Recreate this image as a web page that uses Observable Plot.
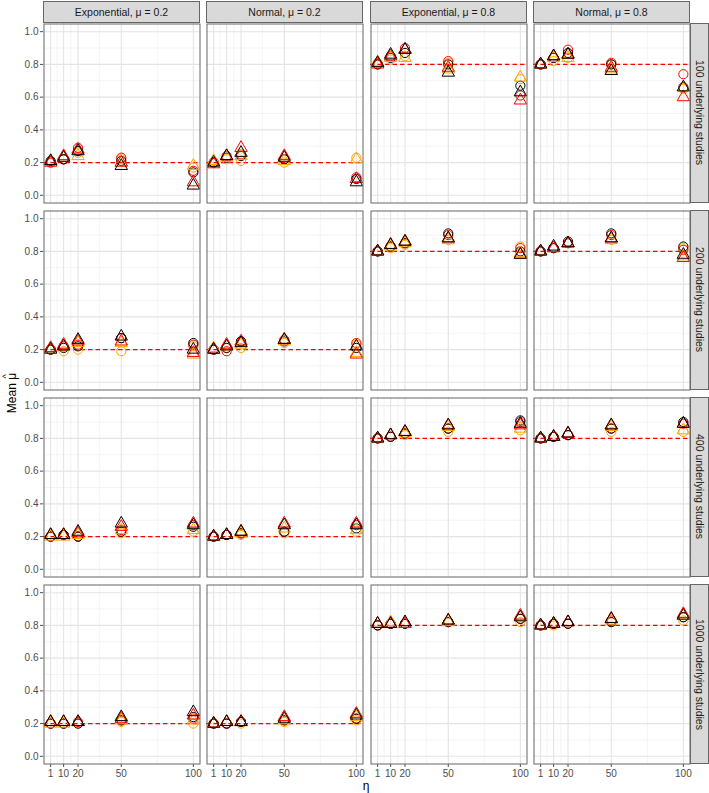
<!DOCTYPE html>
<html><head><meta charset="utf-8">
<script src="https://cdn.jsdelivr.net/npm/d3@7"></script>
<script src="https://cdn.jsdelivr.net/npm/@observablehq/plot@0.6"></script>
<style>
body{margin:0;background:#fff;font-family:"Liberation Sans",Arial,sans-serif}
#chart{position:relative;width:709px;height:793px;overflow:hidden;background:#fff}
.strip{position:absolute;background:#d9d9d9;border:1px solid #666;box-sizing:border-box;display:flex;align-items:center;justify-content:center;font-size:10.5px;color:#1a1a1a;white-space:nowrap}
.strip.v{writing-mode:vertical-rl}
.panel{position:absolute}
.panel svg{display:block;overflow:visible}
.lab{position:absolute;font-size:12px;color:#000000;white-space:nowrap;line-height:1}
.hat{position:relative;display:inline-block}
.hat .h{position:absolute;left:0;right:0;top:-4px;text-align:center;font-size:9px;line-height:1}
</style></head>
<body><div id="chart"></div>
<script>
// ---- data ----
const etas = [1, 10, 20, 50, 100];
const colLabels = ["Exponential, \u03bc = 0.2", "Normal, \u03bc = 0.2", "Exponential, \u03bc = 0.8", "Normal, \u03bc = 0.8"];
const trueMu = [0.2, 0.2, 0.8, 0.8];
const rowLabels = ["100 underlying studies", "200 underlying studies", "400 underlying studies", "1000 underlying studies"];
const seriesShape = ["circle", "circle", "circle", "triangle", "triangle", "triangle"];
const seriesGroup = ["A", "B", "C", "A", "B", "C"];
const groupColors = ["black", "red", "orange"];
const yTicks = [0, 0.2, 0.4, 0.6, 0.8, 1.0];

// per column: [circle A, circle B, circle C, triangle A, triangle B, triangle C] at etas
const mean100 = [
  [[0.21,0.22,0.27,0.21,0.14],[0.20,0.22,0.29,0.23,0.15],[0.20,0.22,0.26,0.22,0.17],[0.21,0.23,0.27,0.18,0.06],[0.20,0.24,0.28,0.20,0.08],[0.21,0.23,0.24,0.20,0.18]],
  [[0.20,0.23,0.24,0.22,0.10],[0.20,0.24,0.25,0.22,0.11],[0.20,0.22,0.21,0.20,0.23],[0.20,0.24,0.26,0.23,0.08],[0.19,0.24,0.29,0.24,0.10],[0.21,0.23,0.24,0.21,0.22]],
  [[0.80,0.84,0.87,0.80,0.67],[0.80,0.85,0.90,0.82,0.61],[0.81,0.83,0.85,0.81,0.71],[0.81,0.86,0.89,0.75,0.63],[0.80,0.85,0.89,0.78,0.58],[0.81,0.84,0.84,0.77,0.72]],
  [[0.80,0.84,0.87,0.80,0.66],[0.80,0.84,0.89,0.81,0.74],[0.80,0.82,0.84,0.80,0.65],[0.80,0.85,0.86,0.76,0.66],[0.80,0.85,0.86,0.78,0.60],[0.80,0.84,0.84,0.77,0.66]]
];
const mean200 = [
  [[0.20,0.21,0.22,0.27,0.24],[0.20,0.22,0.23,0.27,0.23],[0.20,0.19,0.20,0.19,0.22],[0.20,0.22,0.26,0.28,0.20],[0.21,0.23,0.25,0.25,0.18],[0.20,0.22,0.24,0.24,0.17]],
  [[0.20,0.21,0.25,0.25,0.21],[0.20,0.19,0.25,0.26,0.24],[0.20,0.21,0.21,0.24,0.23],[0.20,0.22,0.24,0.26,0.22],[0.20,0.23,0.25,0.26,0.17],[0.21,0.22,0.23,0.25,0.18]],
  [[0.80,0.83,0.85,0.91,0.80],[0.80,0.83,0.85,0.90,0.82],[0.80,0.82,0.84,0.87,0.83],[0.80,0.84,0.86,0.88,0.78],[0.80,0.84,0.86,0.88,0.78],[0.80,0.83,0.85,0.87,0.79]],
  [[0.80,0.82,0.86,0.91,0.83],[0.80,0.82,0.85,0.90,0.81],[0.80,0.82,0.85,0.87,0.82],[0.80,0.83,0.85,0.88,0.78],[0.80,0.82,0.85,0.88,0.76],[0.80,0.82,0.85,0.87,0.77]]
];
const mean400 = [
  [[0.20,0.21,0.20,0.23,0.26],[0.20,0.21,0.20,0.24,0.27],[0.20,0.21,0.20,0.22,0.23],[0.21,0.21,0.23,0.28,0.27],[0.21,0.21,0.22,0.26,0.28],[0.20,0.20,0.21,0.24,0.24]],
  [[0.20,0.21,0.22,0.23,0.25],[0.20,0.21,0.22,0.23,0.27],[0.20,0.21,0.21,0.22,0.23],[0.20,0.21,0.23,0.27,0.27],[0.20,0.21,0.23,0.28,0.28],[0.20,0.21,0.22,0.25,0.24]],
  [[0.80,0.81,0.83,0.86,0.91],[0.80,0.81,0.83,0.86,0.90],[0.80,0.81,0.82,0.84,0.85],[0.80,0.82,0.84,0.88,0.89],[0.80,0.82,0.84,0.88,0.88],[0.80,0.82,0.83,0.87,0.86]],
  [[0.80,0.81,0.82,0.86,0.90],[0.80,0.81,0.82,0.86,0.89],[0.80,0.81,0.82,0.84,0.84],[0.80,0.81,0.83,0.88,0.89],[0.80,0.81,0.83,0.88,0.89],[0.80,0.81,0.83,0.87,0.85]]
];
const mean1000 = [
  [[0.20,0.20,0.20,0.22,0.24],[0.20,0.20,0.21,0.22,0.23],[0.20,0.20,0.20,0.21,0.20],[0.21,0.21,0.21,0.24,0.27],[0.21,0.21,0.21,0.23,0.25],[0.20,0.20,0.21,0.22,0.22]],
  [[0.20,0.20,0.21,0.22,0.23],[0.20,0.20,0.21,0.22,0.23],[0.20,0.20,0.20,0.21,0.22],[0.20,0.21,0.21,0.23,0.25],[0.20,0.21,0.21,0.24,0.26],[0.20,0.21,0.21,0.22,0.24]],
  [[0.80,0.81,0.81,0.82,0.84],[0.80,0.81,0.81,0.82,0.84],[0.80,0.81,0.81,0.82,0.82],[0.81,0.81,0.82,0.83,0.85],[0.81,0.81,0.81,0.83,0.86],[0.81,0.82,0.81,0.82,0.85]],
  [[0.80,0.81,0.81,0.82,0.85],[0.80,0.81,0.81,0.83,0.85],[0.80,0.80,0.81,0.82,0.83],[0.80,0.81,0.82,0.84,0.86],[0.80,0.81,0.82,0.84,0.87],[0.80,0.81,0.82,0.83,0.86]]
];
const rowData = [mean100, mean200, mean400, mean1000];

// ---- layout ----
const chart = document.getElementById("chart");
const colLeft = [43, 206, 370, 533], PW = 157;
const rowTop = [23, 210, 397, 584], PH = 180;
const xDomain = [1 - 0.05 * 99, 100 + 0.05 * 99];
const yDomain = [-0.05, 1.05];
const xMinor = d3.pairs(etas).map(([a, b]) => (a + b) / 2);
const yMinor = d3.pairs(yTicks).map(([a, b]) => (a + b) / 2);

function panel(ci, ri) {
  const left = ci === 0, bottom = ri === 3;
  const ml = left ? 43 : 0, mb = bottom ? 22 : 0;
  const vals = rowData[ri][ci];
  const data = [];
  vals.forEach((arr, si) => arr.forEach((v, k) => data.push({eta: etas[k], value: v, shape: seriesShape[si], group: seriesGroup[si]})));
  const order = ["C", "B", "A"];
  data.sort((a, b) => (a.shape === b.shape ? 0 : a.shape === "circle" ? -1 : 1) || order.indexOf(a.group) - order.indexOf(b.group));
  return Plot.plot({
    width: PW + ml, height: PH + mb,
    marginLeft: ml, marginRight: 0, marginTop: 0, marginBottom: mb,
    style: {fontSize: "10px", fontFamily: "Liberation Sans, Arial, sans-serif", color: "#4d4d4d", background: "transparent", overflow: "visible"},
    x: {domain: xDomain, ticks: etas, tickFormat: d => String(d), tickSize: 3, tickPadding: 2, label: null, axis: bottom ? "bottom" : null},
    y: {domain: yDomain, ticks: yTicks, tickFormat: ".1f", tickSize: 3, tickPadding: 2, label: null, axis: left ? "left" : null},
    color: {domain: ["A", "B", "C"], range: groupColors},
    symbol: {domain: ["circle", "triangle"], range: ["circle", "triangle"]},
    marks: [
      Plot.ruleX(xMinor, {stroke: "#ececec", strokeWidth: 0.6}),
      Plot.ruleY(yMinor, {stroke: "#ececec", strokeWidth: 0.6}),
      Plot.ruleX(etas, {stroke: "#e4e4e4", strokeWidth: 1.1}),
      Plot.ruleY(yTicks, {stroke: "#e4e4e4", strokeWidth: 1.1}),
      Plot.ruleY([trueMu[ci]], {stroke: "red", strokeWidth: 1.2, strokeDasharray: "4.5,3"}),
      Plot.dot(data, {x: "eta", y: "value", stroke: "group", symbol: "shape", fill: "none", r: 4.6, strokeWidth: 1}),
      Plot.frame({stroke: "#666", strokeWidth: 1, inset: 0.5})
    ]
  });
}

for (let ri = 0; ri < 4; ri++) {
  for (let ci = 0; ci < 4; ci++) {
    const div = document.createElement("div");
    div.className = "panel";
    div.style.left = (ci === 0 ? colLeft[ci] - 43 : colLeft[ci]) + "px";
    div.style.top = rowTop[ri] + "px";
    div.appendChild(panel(ci, ri));
    chart.appendChild(div);
  }
}
colLabels.forEach((t, ci) => {
  const s = document.createElement("div");
  s.className = "strip";
  s.style.left = colLeft[ci] + "px"; s.style.top = "1px";
  s.style.width = PW + "px"; s.style.height = "22px";
  s.textContent = t;
  chart.appendChild(s);
});
rowLabels.forEach((t, ri) => {
  const s = document.createElement("div");
  s.className = "strip v";
  s.style.left = "690px"; s.style.top = rowTop[ri] + "px";
  s.style.width = "19px"; s.style.height = PH + "px";
  s.textContent = t;
  chart.appendChild(s);
});
const xl = document.createElement("div");
xl.className = "lab"; xl.textContent = "\u03b7";
xl.style.left = "366px"; xl.style.top = "786px";
xl.style.transform = "translate(-50%,-50%)";
chart.appendChild(xl);
const yl = document.createElement("div");
yl.className = "lab";
yl.innerHTML = 'Mean <span class="hat">\u03bc<span class="h">^</span></span>';
yl.style.left = "12px"; yl.style.top = "393px";
yl.style.transform = "translate(-50%,-50%) rotate(-90deg)";
chart.appendChild(yl);
</script>
</body></html>
